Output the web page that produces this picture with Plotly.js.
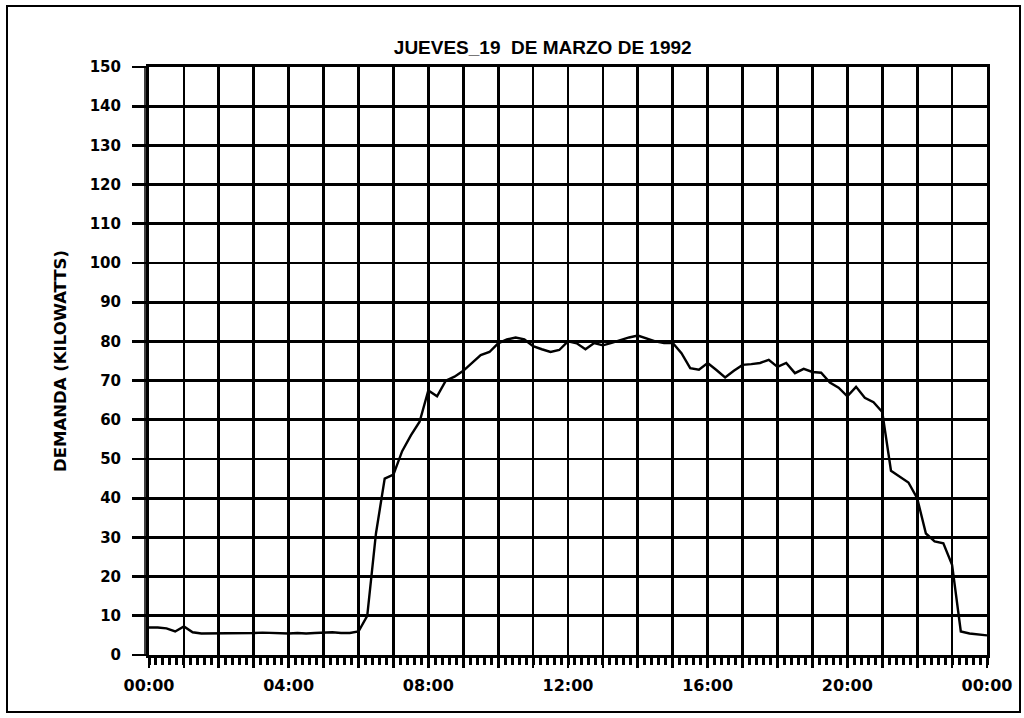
<!DOCTYPE html>
<html>
<head>
<meta charset="utf-8">
<script src="https://cdn.plot.ly/plotly-3.0.1.min.js"></script>
<style>html,body{margin:0;padding:0;background:#fff;}#chart{width:1024px;height:718px;}</style>
</head>
<body>
<div id="chart"></div>
<script>
// Time of day in hours (15-minute readings)
const hours = [
  0.00,0.25,0.50,0.75,1.00,1.25,1.50,1.75,2.00,2.25,2.50,2.75,
  3.00,3.25,3.50,3.75,4.00,4.25,4.50,4.75,5.00,5.25,5.50,5.75,
  6.00,6.25,6.50,6.75,7.00,7.25,7.50,7.75,8.00,8.25,8.50,8.75,
  9.00,9.25,9.50,9.75,10.00,10.25,10.50,10.75,11.00,11.25,11.50,11.75,
  12.00,12.25,12.50,12.75,13.00,13.25,13.50,13.75,14.00,14.25,14.50,14.75,
  15.00,15.25,15.50,15.75,16.00,16.25,16.50,16.75,17.00,17.25,17.50,17.75,
  18.00,18.25,18.50,18.75,19.00,19.25,19.50,19.75,20.00,20.25,20.50,20.75,
  21.00,21.25,21.50,21.75,22.00,22.25,22.50,22.75,23.00,23.25,23.50,23.75,24.00
];
// Demand in kilowatts
const demandaKW = [
  7.0,7.0,6.8,6.0,7.3,5.8,5.5,5.5,5.5,5.6,5.6,5.5,
  5.6,5.7,5.6,5.5,5.5,5.6,5.5,5.6,5.7,5.8,5.6,5.6,
  6.0,10.0,31.0,45.0,46.0,52.0,56.0,59.5,67.5,66.0,70.0,71.0,
  72.5,74.5,76.5,77.3,79.5,80.5,81.0,80.5,78.8,78.0,77.3,77.8,
  80.0,79.5,78.0,79.6,79.0,79.6,80.4,81.0,81.5,80.8,80.0,79.6,
  79.6,77.0,73.2,72.8,74.5,72.7,70.8,72.5,74.0,74.2,74.5,75.3,
  73.5,74.5,71.9,73.0,72.2,72.0,69.5,68.2,66.0,68.4,65.6,64.5,
  62.0,47.0,45.5,44.0,40.0,31.0,29.0,28.5,23.0,6.0,5.5,5.2,5.0
];
// Tick labels
const hourTicks = [0,1,2,3,4,5,6,7,8,9,10,11,12,13,14,15,16,17,18,19,20,21,22,23,24];
const hourLabels = ["00:00","","","","04:00","","","","08:00","","","","12:00","","","","16:00","","","","20:00","","","","00:00"];
const yTicks = [0,10,20,30,40,50,60,70,80,90,100,110,120,130,140,150];
const titleText = "JUEVES_19&nbsp;&nbsp;DE MARZO DE 1992";
const yTitle = "DEMANDA (KILOWATTS)";

const L = 149, R = 37, T = 67, B = 63;
const W = 1024, H = 718;
const pw = W - L - R, ph = H - T - B;
function px2x(px){ return (px - L) / pw; }
function py2y(py){ return (H - B - py) / ph; }

Plotly.newPlot("chart", [{
  x: hours, y: demandaKW, type: "scatter", mode: "lines",
  line: {color: "#000", width: 2.4}, hoverinfo: "skip"
}], {
  width: W, height: H,
  margin: {l: L, r: R, t: T, b: B, pad: 0},
  paper_bgcolor: "#fff", plot_bgcolor: "#fff",
  showlegend: false,
  title: {text: titleText, x: 0.53, xanchor: "center", y: 1 - 47/H, yanchor: "middle",
          font: {family: "Liberation Sans, Arial, sans-serif", size: 19, color: "#000", weight: "bold"}},
  xaxis: {
    range: [0, 24], tickmode: "array", tickvals: hourTicks, ticktext: hourLabels,
    showgrid: true, gridcolor: "#000", gridwidth: 2.8,
    showline: true, linecolor: "#000", linewidth: 3, mirror: true,
    ticks: "outside", ticklen: 10, tickwidth: 2.8, tickcolor: "#000",
    ticklabelstandoff: 4,
    minor: {tickmode: "linear", tick0: 0, dtick: 0.2, ticks: "outside", ticklen: 7, tickwidth: 3, tickcolor: "#000", showgrid: false},
    tickfont: {family: "DejaVu Sans, sans-serif", size: 16, color: "#000", weight: "bold"},
    zeroline: false, fixedrange: true
  },
  yaxis: {
    range: [0, 150], tickmode: "array", tickvals: yTicks,
    showgrid: true, gridcolor: "#000", gridwidth: 2.8,
    showline: true, linecolor: "#000", linewidth: 3, mirror: true,
    ticks: "outside", ticklen: 14, tickwidth: 2.8, tickcolor: "#000",
    ticklabelstandoff: 8,
    tickfont: {family: "DejaVu Sans, sans-serif", size: 15, color: "#000", weight: "bold"},
    zeroline: false, fixedrange: true,
    title: {text: yTitle, standoff: 19,
            font: {family: "DejaVu Sans, Arial, sans-serif", size: 16.5, color: "#000", weight: "bold"}}
  },
  shapes: [
    {type: "line", xref: "paper", yref: "paper", x0: px2x(145), x1: px2x(145), y0: 0, y1: 1,
     line: {color: "#000", width: 1.5}},
    {type: "rect", xref: "paper", yref: "paper", x0: px2x(7), x1: px2x(1020), y0: py2y(6), y1: py2y(712),
     line: {color: "#000", width: 2}}
  ]
}, {displayModeBar: false, staticPlot: true});
</script>
</body>
</html>
